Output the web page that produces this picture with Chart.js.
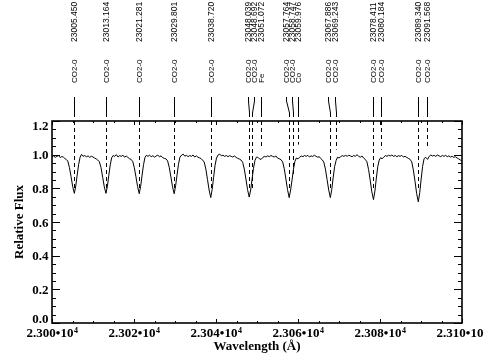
<!DOCTYPE html>
<html><head><meta charset="utf-8">
<script src="https://cdn.jsdelivr.net/npm/chart.js@4/dist/chart.umd.min.js"></script>
<style>html,body{margin:0;padding:0;background:#fff;}#wrap{width:483px;height:360px;}</style>
</head><body><div id="wrap"><canvas id="c" width="483" height="360"></canvas></div>
<script>
// ---- spectrum (wavelength in Angstrom, relative flux) ----
const wavelength = [
  23000.0,23000.4,23000.8,23001.2,23001.6,23002.0,23002.4,23002.8,23003.1,
  23003.45,23003.85,23004.25,23004.65,23005.05,23005.45,23005.8,23006.15,23006.5,23006.85,
  23007.2,23007.6,23008.0,23008.4,23008.8,23009.2,23009.6,23010.0,23010.4,23010.8,
  23011.16,23011.56,23011.96,23012.36,23012.76,23013.16,23013.51,23013.86,23014.21,23014.56,
  23014.9,23015.3,23015.7,23016.1,23016.5,23016.9,23017.3,23017.7,23018.1,23018.5,23018.9,
  23019.28,23019.68,23020.08,23020.48,23020.88,23021.28,23021.63,23021.98,23022.33,23022.68,
  23023.0,23023.4,23023.8,23024.2,23024.6,23025.0,23025.4,23025.8,23026.2,23026.6,23027.0,23027.4,
  23027.8,23028.2,23028.6,23029.0,23029.4,23029.8,23030.15,23030.5,23030.85,23031.2,
  23031.6,23032.0,23032.4,23032.8,23033.2,23033.6,23034.0,23034.4,23034.8,23035.2,23035.6,23036.0,23036.4,
  23036.72,23037.12,23037.52,23037.92,23038.32,23038.72,23039.07,23039.42,23039.77,23040.12,
  23040.5,23040.9,23041.3,23041.7,23042.1,23042.5,23042.9,23043.3,23043.7,23044.1,23044.5,23044.9,23045.3,23045.7,
  23046.1,23046.5,23046.9,23047.3,23047.7,23048.1,23048.45,23048.8,23049.15,23049.5,23049.85,
  23050.2,23050.6,23051.0,23051.4,23051.8,23052.2,23052.6,23053.0,23053.4,23053.8,23054.2,23054.6,23055.0,23055.4,
  23055.85,23056.25,23056.65,23057.05,23057.45,23057.85,23058.2,23058.55,23058.9,23059.25,23059.6,
  23060.0,23060.4,23060.8,23061.2,23061.6,23062.0,23062.4,23062.8,23063.2,23063.6,23064.0,23064.4,23064.8,23065.2,23065.5,
  23065.89,23066.29,23066.69,23067.09,23067.49,23067.89,23068.24,23068.59,23068.94,23069.29,23069.64,
  23070.0,23070.4,23070.8,23071.2,23071.6,23072.0,23072.4,23072.8,23073.2,23073.6,23074.0,23074.4,23074.8,23075.2,23075.6,23076.0,
  23076.41,23076.81,23077.21,23077.61,23078.01,23078.41,23078.76,23079.11,23079.46,23079.81,23080.16,
  23080.5,23080.9,23081.3,23081.7,23082.1,23082.5,23082.9,23083.3,23083.7,23084.1,23084.5,23084.9,23085.3,23085.7,23086.1,23086.5,23086.9,
  23087.34,23087.74,23088.14,23088.54,23088.94,23089.34,23089.69,23090.04,23090.39,23090.74,
  23091.1,23091.6,23092.0,23092.4,23092.8,23093.2,23093.6,23094.0,23094.4,23094.8,23095.2,23095.6,23096.0,23096.4,23096.8,23097.2,23097.6,23098.0,23098.4,23098.8,23099.2,23099.6,23100.0
];
const flux = [
  0.986,0.992,0.984,0.990,0.995,0.983,0.989,0.985,0.978,
  0.972,0.962,0.924,0.869,0.810,0.770,0.814,0.880,0.942,0.985,
  1.002,0.990,0.995,0.987,0.993,0.984,0.991,0.986,0.980,0.975,
  0.968,0.958,0.922,0.866,0.808,0.770,0.812,0.878,0.940,0.982,
  0.995,0.990,1.000,0.986,0.994,0.990,0.997,0.985,0.992,0.984,0.976,
  0.972,0.960,0.923,0.868,0.810,0.768,0.813,0.879,0.941,0.984,
  0.996,0.990,0.997,0.988,0.994,0.985,0.992,0.998,0.987,0.993,0.982,0.978,
  0.975,0.963,0.924,0.868,0.809,0.768,0.815,0.880,0.943,0.985,
  0.997,1.003,0.991,0.996,0.988,0.995,0.990,0.998,0.986,0.993,0.985,0.981,0.976,
  0.968,0.956,0.915,0.853,0.790,0.745,0.794,0.866,0.936,0.980,
  0.998,1.004,0.993,0.997,0.990,0.995,0.988,0.994,0.990,0.986,0.992,0.984,0.978,0.974,
  0.968,0.955,0.915,0.855,0.792,0.748,0.790,0.855,0.920,0.965,0.985,
  0.985,0.975,0.972,0.983,0.990,0.986,0.993,0.988,0.995,0.990,0.986,0.992,0.980,0.976,
  0.970,0.957,0.917,0.855,0.792,0.745,0.790,0.850,0.915,0.960,0.980,
  0.975,0.985,0.992,0.988,0.995,0.990,0.996,0.986,0.993,0.989,0.997,0.990,0.985,0.988,0.978,
  0.970,0.956,0.914,0.853,0.790,0.745,0.794,0.866,0.930,0.965,0.985,
  0.980,0.988,0.994,0.990,0.996,0.990,0.997,0.992,0.988,0.995,0.990,1.000,0.990,0.985,0.992,0.980,
  0.972,0.958,0.912,0.849,0.779,0.733,0.784,0.861,0.930,0.968,0.982,
  0.976,0.984,0.995,0.990,0.997,0.992,0.998,0.990,0.995,0.988,0.994,0.990,0.996,0.986,0.990,0.984,0.978,
  0.972,0.957,0.909,0.842,0.769,0.720,0.774,0.855,0.930,0.975,
  0.985,0.972,0.990,0.998,0.992,0.996,0.990,0.998,0.993,0.988,0.995,0.990,0.996,0.988,0.993,0.986,0.990,0.984,0.988,0.980,0.975,0.968,0.962
];

// ---- identified lines ----
const lineWave = [23005.450,23013.164,23021.281,23029.801,23038.720,23048.039,23048.692,23051.072,
                  23057.764,23058.747,23059.976,23067.886,23069.243,23078.411,23080.184,23089.340,23091.568];
const lineSpecies = ['CO2-0','CO2-0','CO2-0','CO2-0','CO2-0','CO2-0','CO2-0','Fe',
                     'CO2-0','CO2-0','Co','CO2-0','CO2-0','CO2-0','CO2-0','CO2-0','CO2-0'];
const lineLabelWave = [23005.450,23013.164,23021.281,23029.801,23038.720,23047.7,23049.2,23050.9,
                       23057.1,23058.6,23060.1,23067.3,23069.1,23078.411,23080.184,23089.340,23091.568];
const lineDashEnd = [0.79,0.79,0.79,0.79,0.79,0.79,0.79,1.05,0.79,0.88,1.06,0.79,1.03,0.79,1.03,0.79,1.04];

// ---- axes ----
const xTickValues = [23000,23020,23040,23060,23080,23100];
const xTickLabels = ['2.300\u202210','2.302\u202210','2.304\u202210','2.306\u202210','2.308\u202210','2.310\u202210'];
const xTickExp = '4';
const xMinorStep = 5;
const yTickValues = [0,0.2,0.4,0.6,0.8,1.0,1.2];
const yTickLabels = ['0.0','0.2','0.4','0.6','0.8','1.0','1.2'];
const yMinorStep = 0.05;
const xTitle = 'Wavelength (\u00C5)';
const yTitle = 'Relative Flux';

const SERIF = '"Liberation Serif","Times New Roman",serif';
const SANS = '"Liberation Sans",Arial,sans-serif';

const idlPlugin = {
  id: 'idl',
  beforeDatasetsDraw(chart) {
    const {ctx, chartArea: a} = chart;
    const xs = chart.scales.x, ys = chart.scales.y;
    ctx.save();
    ctx.strokeStyle = '#000';
    ctx.lineWidth = 1;
    ctx.setLineDash([4, 3]);
    lineWave.forEach((w, i) => {
      const px = Math.round(xs.getPixelForValue(w)) + 0.5;
      ctx.beginPath();
      ctx.moveTo(px, a.top);
      ctx.lineTo(px, ys.getPixelForValue(lineDashEnd[i]));
      ctx.stroke();
    });
    ctx.restore();
  },
  afterDraw(chart) {
    const {ctx, chartArea: a} = chart;
    const xs = chart.scales.x, ys = chart.scales.y;
    ctx.save();
    ctx.strokeStyle = '#000';
    ctx.fillStyle = '#000';
    // frame
    ctx.lineWidth = 1.6;
    ctx.strokeRect(a.left, a.top, a.right - a.left, a.bottom - a.top);
    // x ticks
    ctx.lineWidth = 1;
    for (let v = xs.min; v <= xs.max + 1e-6; v += xMinorStep) {
      const major = xTickValues.some(t => Math.abs(t - v) < 1e-6);
      const len = major ? 4 : 2;
      const px = Math.round(xs.getPixelForValue(v)) + 0.5;
      ctx.beginPath();
      ctx.moveTo(px, a.bottom); ctx.lineTo(px, a.bottom - len);
      ctx.moveTo(px, a.top); ctx.lineTo(px, a.top + len);
      ctx.stroke();
    }
    // y ticks
    for (let k = 0; k <= Math.round((ys.max - ys.min) / yMinorStep); k++) {
      const v = ys.min + k * yMinorStep;
      const major = yTickValues.some(t => Math.abs(t - v) < 1e-6);
      const len = major ? 8 : 4;
      const py = Math.round(ys.getPixelForValue(v)) + 0.5;
      ctx.beginPath();
      ctx.moveTo(a.left, py); ctx.lineTo(a.left + len, py);
      ctx.moveTo(a.right, py); ctx.lineTo(a.right - len, py);
      ctx.stroke();
    }
    // x tick labels
    xTickValues.forEach((v, i) => {
      const px = xs.getPixelForValue(v);
      ctx.font = 'bold 13px ' + SERIF;
      const w1 = ctx.measureText(xTickLabels[i]).width;
      ctx.font = 'bold 8px ' + SERIF;
      const w2 = ctx.measureText(xTickExp).width;
      const x0 = px - (w1 + w2) / 2;
      ctx.textAlign = 'left';
      ctx.textBaseline = 'alphabetic';
      ctx.font = 'bold 13px ' + SERIF;
      ctx.fillText(xTickLabels[i], x0, a.bottom + 14);
      ctx.font = 'bold 8px ' + SERIF;
      ctx.fillText(xTickExp, x0 + w1 + 0.5, a.bottom + 10);
    });
    // y tick labels
    ctx.font = 'bold 13px ' + SERIF;
    ctx.textAlign = 'right';
    ctx.textBaseline = 'alphabetic';
    yTickValues.forEach((v, i) => {
      let cy = ys.getPixelForValue(v) + 0.5;
      cy = Math.min(Math.max(cy, a.top + 4.5), a.bottom - 4.5);
      ctx.fillText(yTickLabels[i], a.left - 3.5, cy + 4.3);
    });
    // titles
    ctx.textAlign = 'center';
    ctx.fillText(xTitle, (a.left + a.right) / 2, a.bottom + 27);
    ctx.save();
    ctx.translate(23, (a.top + a.bottom) / 2);
    ctx.rotate(-Math.PI / 2);
    ctx.fillText(yTitle, 0, 0);
    ctx.restore();
    // line identification connectors and labels
    ctx.lineWidth = 1;
    ctx.setLineDash([]);
    lineWave.forEach((w, i) => {
      const ax = Math.round(xs.getPixelForValue(w)) + 0.5;
      const lx = Math.round(xs.getPixelForValue(lineLabelWave[i])) + 0.5;
      ctx.beginPath();
      ctx.moveTo(lx, a.top - 24);
      ctx.lineTo(lx, a.top - 20);
      ctx.lineTo(ax, a.top - 8);
      ctx.lineTo(ax, a.top - 4);
      ctx.stroke();
      ctx.save();
      ctx.translate(lx, a.top - 38);
      ctx.rotate(-Math.PI / 2);
      ctx.textAlign = 'left';
      ctx.textBaseline = 'middle';
      ctx.font = '8px ' + SANS;
      ctx.fillText(lineSpecies[i], 0, 0);
      ctx.restore();
      ctx.save();
      ctx.translate(lx, 42);
      ctx.rotate(-Math.PI / 2);
      ctx.textAlign = 'left';
      ctx.textBaseline = 'middle';
      ctx.font = '8.5px ' + SANS;
      ctx.fillText(w.toFixed(3), 0, 0);
      ctx.restore();
    });
    ctx.restore();
  }
};

new Chart(document.getElementById('c'), {
  type: 'line',
  data: {
    datasets: [{
      data: wavelength.map((w, i) => ({x: w, y: flux[i]})),
      borderColor: '#000',
      borderWidth: 1,
      pointRadius: 0,
      tension: 0,
      fill: false
    }]
  },
  options: {
    responsive: false,
    animation: false,
    devicePixelRatio: 1,
    layout: {padding: {left: 52, right: 21, top: 121, bottom: 37}},
    plugins: {legend: {display: false}, tooltip: {enabled: false}},
    scales: {
      x: {type: 'linear', min: 23000, max: 23100, display: false},
      y: {type: 'linear', min: 0, max: 1.2, display: false}
    }
  },
  plugins: [idlPlugin]
});
</script>
</body></html>
